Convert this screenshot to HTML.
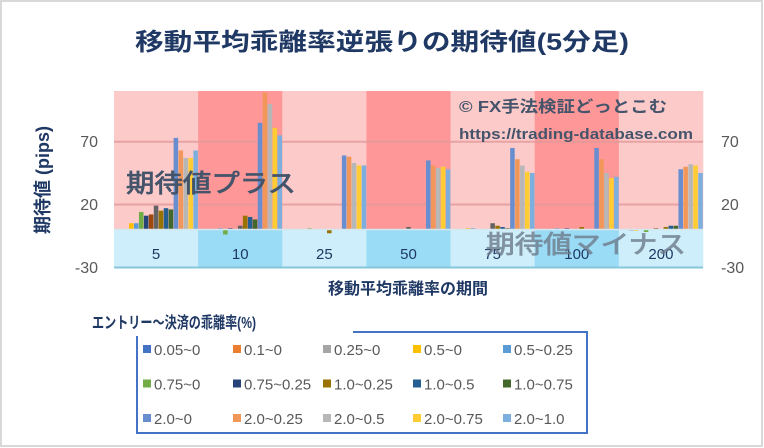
<!DOCTYPE html>
<html><head><meta charset="utf-8"><style>
html,body{margin:0;padding:0;background:#fff;}
svg{display:block;font-family:"Liberation Sans","Noto Sans CJK JP",sans-serif;}
</style></head><body>
<svg id="s" width="764" height="448" viewBox="0 0 764 448" xmlns="http://www.w3.org/2000/svg">
<rect x="1" y="1" width="761" height="445" fill="#fff" stroke="#d9d9d9" stroke-width="2"/>
<text x="382" y="50" text-anchor="middle" font-size="24" font-weight="bold" fill="#1f3864" textLength="494" lengthAdjust="spacingAndGlyphs">移動平均乖離率逆張りの期待値(5分足)</text>
<g id="bg"></g>
<line x1="114" y1="141.7" x2="703" y2="141.7" stroke="#e29a9a" stroke-width="2" opacity="0.8"/>
<line x1="114" y1="204.5" x2="703" y2="204.5" stroke="#e29a9a" stroke-width="2" opacity="0.8"/>
<g id="bars"></g>
<line x1="114" y1="229.5" x2="703" y2="229.5" stroke="#d6e6ee" stroke-width="1.5"/>
<line x1="114" y1="267.5" x2="703" y2="267.5" stroke="#86c6da" stroke-width="2"/>
<g font-size="15" fill="#1f3864" text-anchor="middle" id="cats"></g>
<g font-size="16" fill="#595959">
<text x="98" y="147" text-anchor="end">70</text>
<text x="98" y="210" text-anchor="end">20</text>
<text x="98" y="273" text-anchor="end">-30</text>
<text x="721" y="147">70</text>
<text x="721" y="210">20</text>
<text x="721" y="273">-30</text>
</g>
<text transform="translate(49,180) rotate(-90)" text-anchor="middle" font-size="18" font-weight="bold" fill="#1f3864">期待値 (pips)</text>
<text x="408" y="294" text-anchor="middle" font-size="16" font-weight="bold" fill="#1f3864">移動平均乖離率の期間</text>
<text x="126" y="192" font-size="25" fill="#44546a" stroke="#44546a" stroke-width="0.8" textLength="170" lengthAdjust="spacingAndGlyphs">期待値プラス</text>
<text x="486" y="253" font-size="25" fill="#6e7b8b" stroke="#6e7b8b" stroke-width="0.8" opacity="0.8" textLength="200" lengthAdjust="spacingAndGlyphs">期待値マイナス</text>
<text x="459" y="112" font-size="16" font-weight="bold" fill="#44546a" textLength="208" lengthAdjust="spacingAndGlyphs">© FX手法検証どっとこむ</text>
<text x="459" y="139" font-size="15" font-weight="bold" fill="#44546a" textLength="234" lengthAdjust="spacingAndGlyphs">https://trading-database.com</text>
<path d="M137 336 V433 H587 V332 H353" fill="none" stroke="#4472c4" stroke-width="2"/>
<text x="92" y="328" font-size="16" font-weight="bold" fill="#1f3864" textLength="164" lengthAdjust="spacingAndGlyphs">エントリー～決済の乖離率(%)</text>
<g id="leg" font-size="15" fill="#595959"></g>
</svg>
<script>
var NS="http://www.w3.org/2000/svg";
function el(p,t,a,txt){var e=document.createElementNS(NS,t);for(var k in a)e.setAttribute(k,a[k]);if(txt!=null)e.textContent=txt;document.getElementById(p).appendChild(e);return e;}
var x0=114,gw=84.14,z=229.5,k=1.255;
for(var g=0;g<7;g++){
 var dark=g%2==1;
 el("bg","rect",{x:x0+g*gw,y:91,width:gw+0.3,height:z-91,fill:dark?"#fe9797":"#fdcaca"});
 el("bg","rect",{x:x0+g*gw,y:z,width:gw+0.3,height:268-z,fill:dark?"#9adcf6":"#cdeefa"});
}
var cols=["#4472c4","#ed7d31","#a5a5a5","#ffc000","#5b9bd5","#70ad47","#264478","#9e480e","#636363","#997300","#255e91","#43682b","#698ed0","#f1975a","#b7b7b7","#ffcd33","#7cafdd"];
var d=[
[0,0,0,5,5,14,11,12,19,15,17,16,73,63,57,57,63],
[0,0,0,0,1,-4,1,0,3,11,10,8,85,109,100,81,75],
[0,0,0,0,0,1,0,0,0,-3,0,0,59,58,53,51,51],
[0,0,0,0,0,0,0,0,2,0,0,0,55,51,49,50,48],
[0,0,0,1,1,0,0,0,5,3,2,1,65,56,51,46,45],
[0,0,0,0,1,0,1,0,0,2,0,0,65,56,45,41,42],
[0,0,-1,-1,0,-2,0,1,0,2,3,3,48,50,52,51,45]];
var bw=gw/17;
for(var g=0;g<7;g++)for(var i=0;i<17;i++){var v=d[g][i];if(!v)continue;var h=Math.abs(v)*k;
 el("bars","rect",{x:x0+g*gw+i*bw+0.2,y:v>0?z-h:z,width:bw-0.4,height:h,fill:cols[i]});}
var cats=["5","10","25","50","75","100","200"];
for(var g=0;g<7;g++)el("cats","text",{x:x0+g*gw+gw/2,y:259},cats[g]);
var L=[["#4472c4","0.05~0"],["#ed7d31","0.1~0"],["#a5a5a5","0.25~0"],["#ffc000","0.5~0"],["#5b9bd5","0.5~0.25"],
["#70ad47","0.75~0"],["#264478","0.75~0.25"],["#997300","1.0~0.25"],["#255e91","1.0~0.5"],["#43682b","1.0~0.75"],
["#698ed0","2.0~0"],["#f1975a","2.0~0.25"],["#b7b7b7","2.0~0.5"],["#ffcd33","2.0~0.75"],["#7cafdd","2.0~1.0"]];
for(var j=0;j<15;j++){var c=j%5,r=Math.floor(j/5);var lx=143+c*90,ly=350+r*34.5;
 el("leg","rect",{x:lx,y:ly-5,width:8,height:8,fill:L[j][0]});
 el("leg","text",{x:lx+11,y:ly+5},L[j][1]);}
</script>
</body></html>
